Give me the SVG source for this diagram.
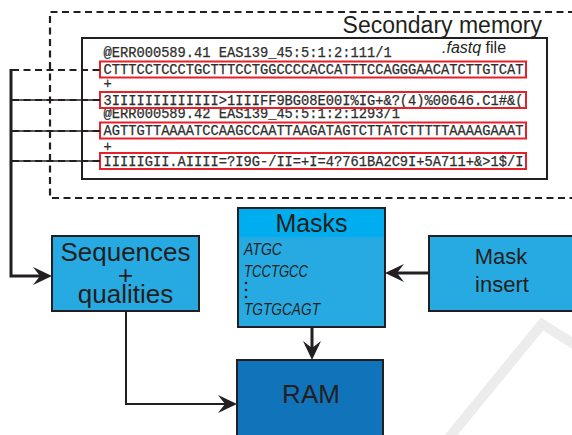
<svg xmlns="http://www.w3.org/2000/svg" width="572" height="435" viewBox="0 0 572 435">
  <style>
    .box { stroke: #231F20; stroke-width: 2; }
    .lbl { font-family: "Liberation Sans", Arial, sans-serif; fill: #231F20; }
    .mono { font-family: "Liberation Mono", "Courier New", monospace; font-size: 13.73px; fill: #2e2e2e; stroke: #2e2e2e; stroke-width: 0.25; }
    .mask { font-family: "Liberation Sans", Arial, sans-serif; font-style: italic; font-size: 16.5px; fill: #231F20; }
    .red { fill: none; stroke: #E8202A; stroke-width: 2; }
    .dash { fill: none; stroke: #231F20; stroke-width: 2.2; stroke-dasharray: 7 4.5; }
    .solid { fill: none; stroke: #231F20; }
  </style>
  <defs>
    <marker id="arr" markerUnits="userSpaceOnUse" viewBox="-20 -10 20 20" markerWidth="20" markerHeight="20" refX="-10" refY="0" orient="auto">
      <path d="M0,0 L-19,-9 L-12,0 L-19,9 Z" fill="#231F20"/>
    </marker>
  </defs>
  <rect width="572" height="435" fill="#ffffff"/>

  <!-- watermark -->
  <path d="M447,440 L542,324 L580,348" fill="none" stroke="#ececec" stroke-width="10"/>

  <!-- Secondary memory -->
  <g id="secondary-memory">
    <path class="dash" d="M575,12 H50 V198 H575" stroke-width="2"/>
    <text class="lbl" x="542" y="33" font-size="23" text-anchor="end">Secondary memory</text>
  </g>

  <!-- fastq file -->
  <g id="fastq-file">
    <rect x="82" y="38" width="465" height="141" fill="#ffffff" stroke="#231F20" stroke-width="2"/>
    <text x="442" y="53" class="lbl" font-size="16"><tspan font-style="italic">.fastq</tspan> file</text>
    <text class="mono" x="103.5" y="57">@ERR000589.41 EAS139_45:5:1:2:111/1</text>
    <text class="mono" x="103.5" y="74">CTTTCCTCCCTGCTTTCCTGGCCCCACCATTTCCAGGGAACATCTTGTCAT</text>
    <text class="mono" x="103.5" y="88">+</text>
    <text class="mono" x="103.5" y="104.5">3IIIIIIIIIIIII&gt;1IIIFF9BG08E00I%IG+&amp;?(4)%00646.C1#&amp;(</text>
    <text class="mono" x="103.5" y="118">@ERR000589.42 EAS139_45:5:1:2:1293/1</text>
    <text class="mono" x="103.5" y="134.5">AGTTGTTAAAATCCAAGCCAATTAAGATAGTCTTATCTTTTTAAAAGAAAT</text>
    <text class="mono" x="103.5" y="151">+</text>
    <text class="mono" x="103.5" y="165.5">IIIIIGII.AIIII=?I9G-/II=+I=4?761BA2C9I+5A711+&amp;&gt;1$/I</text>
    <rect class="red" x="100" y="61.5" width="426" height="16"/>
    <rect class="red" x="100" y="92" width="426" height="16"/>
    <rect class="red" x="100" y="122.5" width="426" height="16"/>
    <rect class="red" x="100" y="153" width="426" height="16"/>
  </g>

  <!-- Sequences + qualities -->
  <g id="sequences">
    <rect class="box" x="52" y="236" width="147" height="75" fill="#27AAE1"/>
    <text class="lbl" font-size="26" text-anchor="middle"><tspan x="125.5" y="261">Sequences</tspan><tspan x="125.5" y="284">+</tspan><tspan x="125.5" y="303">qualities</tspan></text>
  </g>

  <!-- Masks -->
  <g id="masks">
    <rect x="238" y="208" width="147" height="119" fill="#27A9E1"/>
    <rect x="238" y="208" width="147" height="29" fill="#00AEEF"/>
    <rect x="238" y="208" width="147" height="119" fill="none" stroke="#231F20" stroke-width="2"/>
    <text class="lbl" x="311.5" y="232" font-size="25" text-anchor="middle">Masks</text>
    <text class="mask" x="244" y="255" textLength="38" lengthAdjust="spacingAndGlyphs">ATGC</text>
    <text class="mask" x="244" y="277" textLength="64" lengthAdjust="spacingAndGlyphs">TCCTGCC</text>
    <circle cx="246" cy="283" r="1.3" fill="#231F20"/>
    <circle cx="246" cy="290" r="1.3" fill="#231F20"/>
    <circle cx="246" cy="297" r="1.3" fill="#231F20"/>
    <text class="mask" x="244" y="315" textLength="76" lengthAdjust="spacingAndGlyphs">TGTGCAGT</text>
  </g>

  <!-- Mask insert -->
  <g id="mask-insert">
    <rect class="box" x="429" y="236" width="150" height="75" fill="#27AAE1"/>
    <text class="lbl" font-size="22" text-anchor="middle"><tspan x="501" y="264">Mask</tspan><tspan x="502" y="292">insert</tspan></text>
  </g>

  <!-- RAM -->
  <g id="ram">
    <rect class="box" x="237" y="360" width="146" height="80" fill="#1174BB"/>
    <text class="lbl" x="311" y="403" font-size="26" text-anchor="middle">RAM</text>
  </g>

  <!-- Connectors -->
  <g id="connectors">
    <path class="dash" d="M12,70 H100"/>
    <path class="solid" stroke-width="1.3" d="M11,100 H100 M11,131 H100 M11,161 H100"/>
    <path class="dash" d="M12,100 H100 M12,131 H100 M12,161 H100"/>
    <path class="solid" stroke-width="3" d="M11,69 V276 H42" marker-end="url(#arr)"/>
    <path class="solid" stroke-width="2" d="M126,311 V404 H227" marker-end="url(#arr)"/>
    <path class="solid" stroke-width="3" d="M429,273 H395" marker-end="url(#arr)"/>
    <path class="solid" stroke-width="3" d="M312,327 V350" marker-end="url(#arr)"/>
  </g>
</svg>
